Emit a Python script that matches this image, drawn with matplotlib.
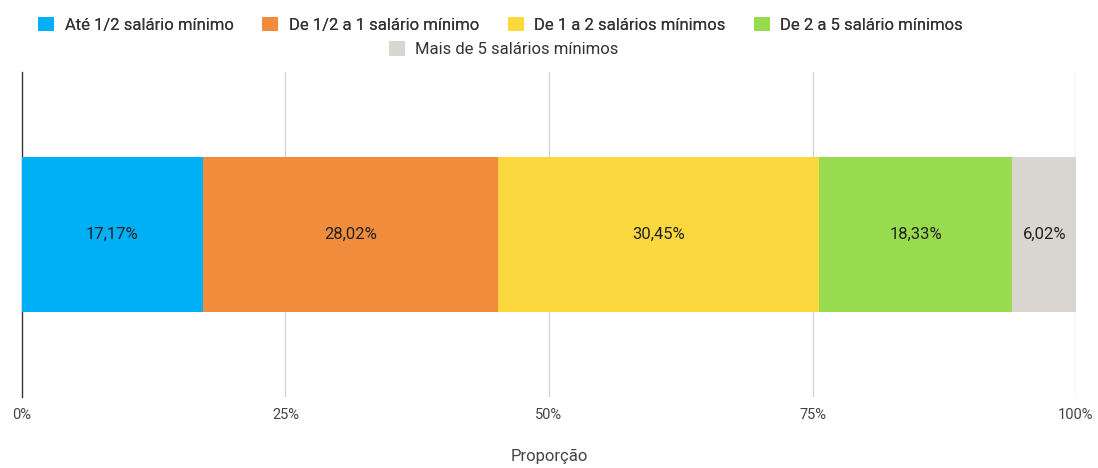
import matplotlib
matplotlib.use("Agg")
import matplotlib.pyplot as plt
from matplotlib.patches import Patch

categories = ["Até 1/2 salário mínimo", "De 1/2 a 1 salário mínimo",
              "De 1 a 2 salários mínimos", "De 2 a 5 salário mínimos",
              "Mais de 5 salários mínimos"]
values = [17.17, 28.02, 30.45, 18.33, 6.02]
labels = ["17,17%", "28,02%", "30,45%", "18,33%", "6,02%"]
ticks = [0, 25, 50, 75, 100]
tick_labels = ["0%", "25%", "50%", "75%", "100%"]
colors = ["#00B0F6", "#F08C3C", "#FCD83F", "#99DB4F", "#D9D5D0"]

plt.rcParams['font.family'] = ['Roboto', 'DejaVu Sans']

fig = plt.figure(figsize=(10.98, 4.68), dpi=100)
ax = fig.add_axes([0.020, 0.152, 0.960, 0.694])

left = 0
for v, c, lab in zip(values, colors, labels):
    ax.barh(0, v, left=left, height=0.48, color=c, zorder=3)
    ax.text(left + v / 2, 0, lab, ha="center", va="center", fontsize=12,
            color="#222222", zorder=4)
    left += v

ax.set_xlim(0, 100)
ax.set_ylim(-0.5, 0.5)
ax.set_yticks([])
ax.set_xticks(ticks)
ax.set_xticklabels(tick_labels, fontsize=10.5, color="#444444")
ax.tick_params(axis="x", length=0, pad=8)
for t in ticks[1:]:
    ax.axvline(t, color="#D6D6D6", lw=1, zorder=1)
for s in ["top", "right", "bottom"]:
    ax.spines[s].set_visible(False)
ax.spines["left"].set_color("#333333")
ax.spines["left"].set_linewidth(1)
ax.set_xlabel("Proporção", fontsize=12, color="#444444", labelpad=19)

handles = [Patch(facecolor=c, edgecolor="none") for c in colors]
leg_kw = dict(loc="center", frameon=False, fontsize=12,
              handlelength=0.96, handleheight=0.96, handletextpad=0.62,
              labelcolor="#333333", borderpad=0.2)
leg1 = fig.legend(handles[:4], categories[:4], ncol=4,
                  bbox_to_anchor=(0.456, 0.947), columnspacing=1.72, **leg_kw)
leg2 = fig.legend(handles[4:], categories[4:], ncol=1,
                  bbox_to_anchor=(0.4585, 0.895), **leg_kw)
fig.add_artist(leg1)

fig.savefig("out.png", dpi=100)
